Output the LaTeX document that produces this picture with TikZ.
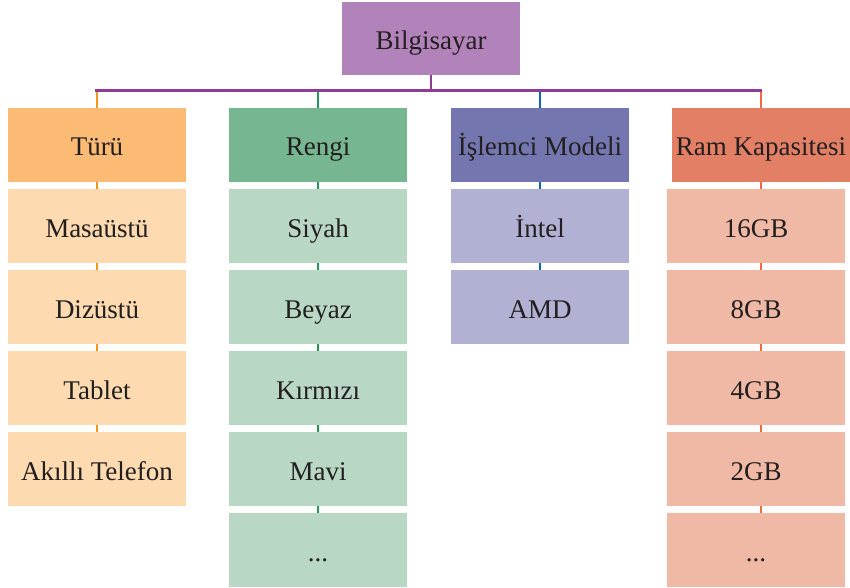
\documentclass[tikz,border=0pt]{standalone}
\usepackage{fontspec}
\setmainfont{Liberation Serif}
\usetikzlibrary{positioning}

\definecolor{rootfill}{HTML}{B283BB}
\definecolor{rootline}{HTML}{8E3C98}
\definecolor{typehead}{HTML}{FBBB74}
\definecolor{typeitem}{HTML}{FDDAB0}
\definecolor{typeline}{HTML}{F7941D}
\definecolor{colorhead}{HTML}{76B690}
\definecolor{coloritem}{HTML}{B9D7C5}
\definecolor{colorline}{HTML}{1E9B5A}
\definecolor{cpuhead}{HTML}{7477AF}
\definecolor{cpuitem}{HTML}{B0B1D3}
\definecolor{cpuline}{HTML}{0A67B0}
\definecolor{ramhead}{HTML}{E37F65}
\definecolor{ramitem}{HTML}{F0B9A5}
\definecolor{ramline}{HTML}{F26A43}
\definecolor{textgray}{HTML}{231F20}

\begin{document}
\begin{tikzpicture}[node distance=81pt, auto]
    \tikzstyle{box}=[rectangle, minimum width=178pt, minimum height=73.5pt, inner sep=0pt, text height=23pt, text depth=1pt, text=textgray, font=\fontsize{27}{31}\selectfont]
    \tikzstyle{rootbox}=[box, fill=rootfill]
    \tikzstyle{typeheadbox}=[box, fill=typehead]
    \tikzstyle{typeitembox}=[box, fill=typeitem]
    \tikzstyle{colorheadbox}=[box, fill=colorhead]
    \tikzstyle{coloritembox}=[box, fill=coloritem]
    \tikzstyle{cpuheadbox}=[box, fill=cpuhead]
    \tikzstyle{cpuitembox}=[box, fill=cpuitem]
    \tikzstyle{ramheadbox}=[box, fill=ramhead]
    \tikzstyle{ramitembox}=[box, fill=ramitem]
    \tikzstyle{link}=[line width=2pt]

    \path[use as bounding box] (0,0) rectangle (850pt,-588pt);

    % Root
    \node[rootbox] (root) at (431pt,-38.5pt) {Bilgisayar};
    \coordinate (bar) at ([yshift=-15pt]root.south);

    % Headers
    \node[typeheadbox] (turu) [below of=root, xshift=-334pt, yshift=-25.5pt] {Türü};
    \node[colorheadbox] (rengi) [below of=root, xshift=-113pt, yshift=-25.5pt] {Rengi};
    \node[cpuheadbox] (islemci) [below of=root, xshift=109pt, yshift=-25.5pt] {İşlemci Modeli};
    \node[ramheadbox] (ram) [below of=root, xshift=330pt, yshift=-25.5pt] {Ram Kapasitesi};

    % Türü
    \node[typeitembox] (t1) [below of=turu] {Masaüstü};
    \node[typeitembox] (t2) [below of=t1] {Dizüstü};
    \node[typeitembox] (t3) [below of=t2] {Tablet};
    \node[typeitembox] (t4) [below of=t3] {Akıllı Telefon};

    % Rengi
    \node[coloritembox] (c1) [below of=rengi] {Siyah};
    \node[coloritembox] (c2) [below of=c1] {Beyaz};
    \node[coloritembox] (c3) [below of=c2] {Kırmızı};
    \node[coloritembox] (c4) [below of=c3] {Mavi};
    \node[coloritembox] (c5) [below of=c4] {...};

    % İşlemci Modeli
    \node[cpuitembox] (p1) [below of=islemci] {İntel};
    \node[cpuitembox] (p2) [below of=p1] {AMD};

    % Ram Kapasitesi
    \node[ramitembox] (m1) [below of=ram, xshift=-5pt] {16GB};
    \node[ramitembox] (m2) [below of=m1] {8GB};
    \node[ramitembox] (m3) [below of=m2] {4GB};
    \node[ramitembox] (m4) [below of=m3] {2GB};
    \node[ramitembox] (m5) [below of=m4] {...};

    % Lines
    \draw[link, typeline] (turu.north |- bar) -- (turu.north);
    \draw[link, colorline] (rengi.north |- bar) -- (rengi.north);
    \draw[link, cpuline] (islemci.north |- bar) -- (islemci.north);
    \draw[link, ramline] (ram.north |- bar) -- (ram.north);
    \foreach \a/\b in {turu/t1, t1/t2, t2/t3, t3/t4}
        \draw[link, typeline] (\a) -- (\b);
    \foreach \a/\b in {rengi/c1, c1/c2, c2/c3, c3/c4, c4/c5}
        \draw[link, colorline] (\a) -- (\b);
    \foreach \a/\b in {islemci/p1, p1/p2}
        \draw[link, cpuline] (\a) -- (\b);
    \draw[link, ramline] (ram.south) -- (ram.south |- m1.north);
    \foreach \a/\b in {m1/m2, m2/m3, m3/m4, m4/m5}
        \draw[link, ramline] (\a.south -| ram) -- (\b.north -| ram);
    \draw[link, rootline] (root) -- (bar);
    \draw[line width=2.5pt, rootline] ([xshift=-2pt]turu.north |- bar) -- ([xshift=1pt]ram.north |- bar);
\end{tikzpicture}
\end{document}
